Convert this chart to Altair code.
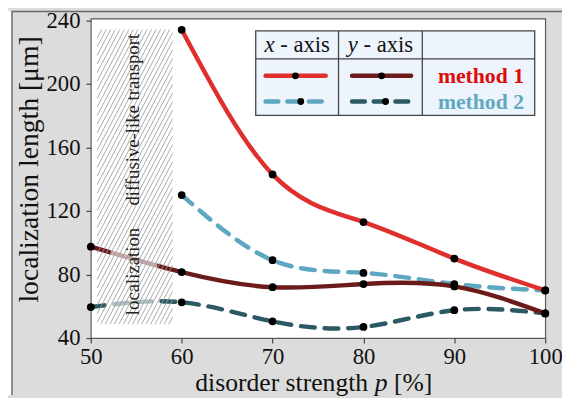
import altair as alt
import pandas as pd

# ---------------- data ----------------
p_vals = [50, 60, 70, 80, 90, 100]
m1_xaxis = [None, 234, 143, 113, 90, 70]
m2_xaxis = [None, 130, 89, 81, 74, 70]
m1_yaxis = [97.5, 81.5, 72, 74, 72.5, 55.5]
m2_yaxis = [59.5, 62.5, 50.5, 47, 57.5, 55.5]
x_ticks = [50, 60, 70, 80, 90, 100]
y_ticks = [40, 80, 120, 160, 200, 240]

region_x = [50.7, 59.0]      # hatched region (x range)
region_y = [48.7, 234.2]     # hatched region (y range)
fade_x = [52.2, 57.3]        # faded part of the lines
region_labels = ["localization", "diffusive-like transport"]
region_label_y = [81.9, 177.4]
region_label_x = 54.65

SERIF = "Liberation Serif"
RED = "#e0302e"
DRED = "#6c1b1b"
LBLUE = "#5ea7c1"
DTEAL = "#2c5a63"

W, H = 461, 324
XD = [50, 100]
YD = [40, 241]

xs = alt.Scale(domain=XD, nice=False, zero=False)
ys = alt.Scale(domain=YD, nice=False, zero=False)
xax = alt.Axis(values=x_ticks, title=None, grid=False, domain=False, tickSize=5,
               tickColor="#444", tickWidth=1.2, labelFont=SERIF, labelFontSize=23,
               labelColor="#111", labelPadding=3, labelFlush=False, labelOverlap=False)
yax = alt.Axis(values=y_ticks, title=None, grid=False, domain=False, tickSize=5,
               tickColor="#444", tickWidth=1.2, labelFont=SERIF, labelFontSize=23,
               labelColor="#111", labelPadding=6, labelOverlap=False)


def X(f):
    return alt.X(f"{f}:Q", scale=xs, axis=xax)


def Y(f):
    return alt.Y(f"{f}:Q", scale=ys, axis=yax)


def series_df(vals):
    return pd.DataFrame([{"x": p, "v": v} for p, v in zip(p_vals, vals) if v is not None])


layers = []

# frame decorations (outside plot area)
one = pd.DataFrame({"k": [0]})
layers.append(alt.Chart(one).mark_rect(fill="white").encode(
    x=alt.value(-84), x2=alt.value(-80), y=alt.value(-8), y2=alt.value(382)))
layers.append(alt.Chart(one).mark_rule(color="#6a6a6a", strokeWidth=1.5).encode(
    x=alt.value(-80), y=alt.value(-8), y2=alt.value(382)))
layers.append(alt.Chart(one).mark_rule(color="#6a6a6a", strokeWidth=1.5).encode(
    x=alt.value(-80), x2=alt.value(480), y=alt.value(-7.3)))

# lines
line_specs = [
    (m2_xaxis, LBLUE, [14, 10]),
    (m1_xaxis, RED, None),
    (m2_yaxis, DTEAL, [14, 10]),
    (m1_yaxis, DRED, None),
]
for vals, col, dash in line_specs:
    kw = dict(interpolate="natural", color=col, strokeWidth=4.5, strokeCap="round")
    if dash:
        kw["strokeDash"] = dash
    layers.append(alt.Chart(series_df(vals)).mark_line(**kw).encode(x=X("x"), y=Y("v")))

# faded segment overlay
fade = pd.DataFrame({"x": [fade_x[0]], "x2": [fade_x[1]], "y": [50], "y2": [105]})
layers.append(alt.Chart(fade).mark_rect(fill="white", opacity=0.62).encode(
    x=X("x"), x2="x2", y=Y("y"), y2="y2"))

# hatch lines
sx = W / (XD[1] - XD[0])
sy = H / (YD[1] - YD[0])
X0 = (region_x[0] - XD[0]) * sx
X1 = (region_x[1] - XD[0]) * sx
Y0 = (region_y[0] - YD[0]) * sy
Y1 = (region_y[1] - YD[0]) * sy
k = 1.9
step = 4.6
segs = []
c = X0 - (Y1 - Y0) / k
while c < X1:
    ya = Y0 + (X0 - c) * k
    yb = Y0 + (X1 - c) * k
    ystart = max(Y0, ya)
    yend = min(Y1, yb)
    if yend > ystart:
        xa = c + (ystart - Y0) / k
        xb = c + (yend - Y0) / k
        segs.append({"x": XD[0] + xa / sx, "y": YD[0] + ystart / sy,
                     "x2": XD[0] + xb / sx, "y2": YD[0] + yend / sy})
    c += step
layers.append(alt.Chart(pd.DataFrame(segs)).mark_rule(color="#9a9a9a", strokeWidth=0.85).encode(
    x=X("x"), y=Y("y"), x2="x2", y2="y2"))

# region labels
rl = pd.DataFrame({"t": region_labels, "x": [region_label_x] * 2, "y": region_label_y})
layers.append(alt.Chart(rl).mark_text(angle=270, font=SERIF, fontSize=19, color="#222",
                                       align="center", baseline="middle").encode(
    x=X("x"), y=Y("y"), text="t:N"))

# points
pts = pd.concat([series_df(v) for v in (m1_xaxis, m2_xaxis, m1_yaxis, m2_yaxis)])
layers.append(alt.Chart(pts).mark_circle(size=62, color="black", opacity=1, clip=False).encode(
    x=X("x"), y=Y("v")))

# ---------------- legend table (pixel layout) ----------------
LX0, LX1, LY0, LY1 = 167.3, 450.3, 12.3, 98
C1, C2 = 251.3, 336.3
HY = 40.7
layers.append(alt.Chart(one).mark_rect(fill="#edf4fb", stroke="#444", strokeWidth=1.3).encode(
    x=alt.value(LX0), x2=alt.value(LX1), y=alt.value(LY0), y2=alt.value(LY1)))
for cx in (C1, C2):
    layers.append(alt.Chart(one).mark_rule(color="#444", strokeWidth=1.3).encode(
        x=alt.value(cx), y=alt.value(LY0), y2=alt.value(LY1)))
layers.append(alt.Chart(one).mark_rule(color="#444", strokeWidth=1.3).encode(
    x=alt.value(LX0), x2=alt.value(LX1), y=alt.value(HY)))

leg_lines = [
    (177.3, 238.3, 58, RED, None, 207.6),
    (265.0, 325.0, 58, DRED, None, 295.0),
    (177.3, 238.3, 84, LBLUE, [13, 9], 213.0),
    (265.0, 325.0, 84, DTEAL, [13, 9], 299.0),
]
for a, b, yy, col, dash, dot in leg_lines:
    kw = dict(color=col, strokeWidth=4.5, strokeCap="round")
    if dash:
        kw["strokeDash"] = dash
    layers.append(alt.Chart(one).mark_rule(**kw).encode(
        x=alt.value(a), x2=alt.value(b), y=alt.value(yy)))
    layers.append(alt.Chart(one).mark_circle(size=48, color="black", opacity=1).encode(
        x=alt.value(dot), y=alt.value(yy)))

for cc, letter in (((LX0 + C1) / 2, "x"), ((C1 + C2) / 2, "y")):
    start = cc - 33.2
    layers.append(alt.Chart(one).mark_text(text=letter, font=SERIF, fontSize=23, fontStyle="italic",
                                            align="left", baseline="alphabetic", color="#111").encode(
        x=alt.value(start), y=alt.value(34)))
    layers.append(alt.Chart(one).mark_text(text="- axis", font=SERIF, fontSize=23,
                                            align="left", baseline="alphabetic", color="#111").encode(
        x=alt.value(start + 16.0), y=alt.value(34)))

for txt, col, yy in (("method 1", "#dd0b0b", 65), ("method 2", "#62a9c0", 91.7)):
    layers.append(alt.Chart(one).mark_text(text=txt, font=SERIF, fontSize=22, fontWeight="bold",
                                            align="center", baseline="alphabetic", color=col).encode(
        x=alt.value(395.8), y=alt.value(yy)))

# ---------------- axis titles ----------------
layers.append(alt.Chart(one).mark_text(text="localization length [μm]", angle=270, font=SERIF,
                                        fontSize=28, align="center", baseline="middle",
                                        color="#111").encode(x=alt.value(-62), y=alt.value(153)))
TX = 106
TY = 377.5
layers.append(alt.Chart(one).mark_text(text="disorder strength", font=SERIF, fontSize=26,
                                        align="left", baseline="alphabetic", color="#111").encode(
    x=alt.value(TX), y=alt.value(TY)))
layers.append(alt.Chart(one).mark_text(text="p", font=SERIF, fontSize=26, fontStyle="italic",
                                        align="left", baseline="alphabetic", color="#111").encode(
    x=alt.value(TX + 182), y=alt.value(TY)))
layers.append(alt.Chart(one).mark_text(text="[%]", font=SERIF, fontSize=26,
                                        align="left", baseline="alphabetic", color="#111").encode(
    x=alt.value(TX + 201.5), y=alt.value(TY)))

chart = alt.layer(*layers).properties(
    width=W, height=H,
    padding={"left": 84, "top": 8, "right": 17, "bottom": 58},
    autosize=alt.AutoSizeParams(type="none"),
    background="#dcdcdc",
).configure_view(fill="white", stroke="#5a5a5a", strokeWidth=1.2)

chart.save("out.html", embed_options={"renderer": "svg", "actions": False})
